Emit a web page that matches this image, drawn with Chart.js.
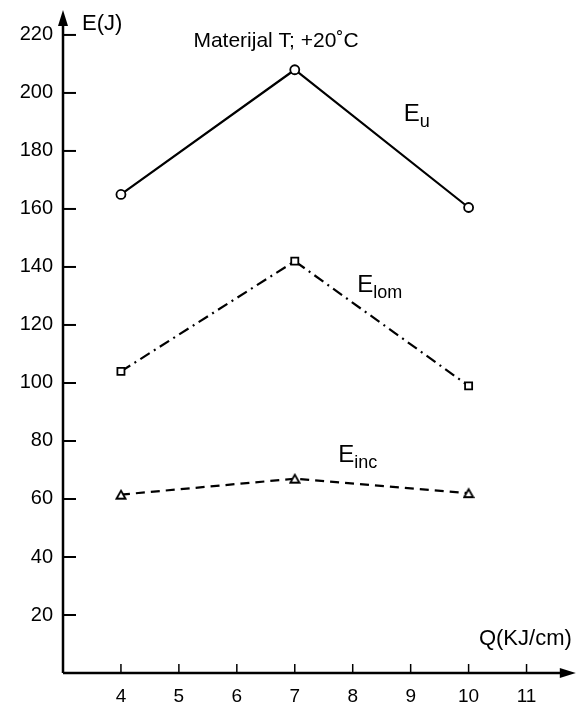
<!DOCTYPE html>
<html><head><meta charset="utf-8">
<script src="https://cdn.jsdelivr.net/npm/chart.js@4/dist/chart.umd.min.js"></script>
<style>html,body{margin:0;padding:0;background:#fff}#wrap{width:583px;height:709px}</style>
</head><body><div id="wrap"><canvas id="c" width="583" height="709"></canvas></div>
<script>
const xValues = [4, 7, 10];
const eU = [165, 208, 160.5];
const eLom = [104, 142, 99];
const eInc = [61.5, 67, 62];
const xTicks = [4, 5, 6, 7, 8, 9, 10, 11];
const yTicks = [20, 40, 60, 80, 100, 120, 140, 160, 180, 200, 220];
const seriesLabels = [
  {main: 'E', sub: 'u', x: 8.88, y: 193.5},
  {main: 'E', sub: 'lom', x: 8.08, y: 134.5},
  {main: 'E', sub: 'inc', x: 7.75, y: 76}
];
const FONT = '"Liberation Sans", Arial, sans-serif';

function pts(vals){ return xValues.map((x,i)=>({x:x,y:vals[i]})); }

const axisPlugin = {
  id: 'axisDeco',
  afterDraw(chart){
    const ctx = chart.ctx, xs = chart.scales.x, ys = chart.scales.y;
    const x0 = xs.left, y0 = ys.bottom;
    ctx.save();
    ctx.strokeStyle = '#000'; ctx.fillStyle = '#000'; ctx.lineWidth = 2.5;
    ctx.beginPath(); ctx.moveTo(x0, y0); ctx.lineTo(x0, ys.top + 12); ctx.stroke();
    ctx.beginPath(); ctx.moveTo(x0, y0); ctx.lineTo(xs.right - 12, y0); ctx.stroke();
    ctx.beginPath(); ctx.moveTo(x0, ys.top); ctx.lineTo(x0-5, ys.top+16); ctx.lineTo(x0+5, ys.top+16); ctx.closePath(); ctx.fill();
    ctx.beginPath(); ctx.moveTo(xs.right, y0); ctx.lineTo(xs.right-16, y0-5); ctx.lineTo(xs.right-16, y0+5); ctx.closePath(); ctx.fill();
    ctx.lineWidth = 2;
    yTicks.forEach(v=>{ const p = ys.getPixelForValue(v); ctx.beginPath(); ctx.moveTo(x0, p); ctx.lineTo(x0+13, p); ctx.stroke(); });
    ctx.lineWidth = 1.5;
    xTicks.forEach(v=>{ const p = xs.getPixelForValue(v); ctx.beginPath(); ctx.moveTo(p, y0); ctx.lineTo(p, y0-9); ctx.stroke(); });
    ctx.textBaseline = 'alphabetic';
    ctx.font = '22px ' + FONT; ctx.textAlign = 'left';
    ctx.fillText('E(J)', x0 + 19, ys.top + 20);
    ctx.font = '22px ' + FONT; ctx.textAlign = 'right';
    ctx.fillText('Q(KJ/cm)', xs.right - 4, y0 - 28);
    ctx.font = '21px ' + FONT; ctx.textAlign = 'center';
    ctx.fillText('Materijal T; +20\u02DAC', 276, 47);
    seriesLabels.forEach(l=>{
      const px = xs.getPixelForValue(l.x), py = ys.getPixelForValue(l.y);
      ctx.font = '24px ' + FONT; ctx.textAlign = 'left';
      ctx.fillText(l.main, px, py + 9);
      const w = ctx.measureText(l.main).width;
      ctx.font = '18px ' + FONT;
      ctx.fillText(l.sub, px + w, py + 15);
    });
    ctx.restore();
  }
};

function triangle(){
  const c = document.createElement('canvas'); c.width = 12; c.height = 12;
  const g = c.getContext('2d'); g.strokeStyle='#000'; g.fillStyle='#fff'; g.lineWidth=1.8;
  g.beginPath(); g.moveTo(6,2); g.lineTo(10.5,10); g.lineTo(1.5,10); g.closePath(); g.fill(); g.stroke();
  return c;
}

new Chart(document.getElementById('c'), {
  type: 'scatter',
  data: { datasets: [
    { data: pts(eU), showLine: true, borderColor: '#000', borderWidth: 2.2, pointStyle: 'circle', pointRadius: 4.5, pointBorderWidth: 1.8, pointBackgroundColor: '#fff', pointBorderColor: '#000' },
    { data: pts(eLom), showLine: true, borderColor: '#000', borderWidth: 2.2, borderDash: [11, 5, 2, 5], pointStyle: 'rect', pointRadius: 5, pointBorderWidth: 1.8, pointBackgroundColor: '#fff', pointBorderColor: '#000' },
    { data: pts(eInc), showLine: true, borderColor: '#000', borderWidth: 2.2, borderDash: [9, 6], pointStyle: triangle(), pointRadius: 5, pointBackgroundColor: '#fff', pointBorderColor: '#000' }
  ]},
  options: {
    responsive: false, animation: false, devicePixelRatio: 1,
    layout: { padding: { top: 10, right: 6, left: 0, bottom: 0 } },
    plugins: { legend: { display: false }, tooltip: { enabled: false } },
    scales: {
      x: { type: 'linear', min: 3, max: 11.85,
        afterBuildTicks: s => { s.ticks = xTicks.map(v=>({value:v})); },
        afterFit: s => { s.height = 36; s.paddingLeft = 0; s.paddingRight = 0; },
        grid: { display: false, drawTicks: false }, border: { display: false },
        ticks: { color: '#000', font: { size: 19, family: FONT }, padding: 12, maxRotation: 0 } },
      y: { type: 'linear', min: 0, max: 228.6,
        afterBuildTicks: s => { s.ticks = yTicks.map(v=>({value:v})); },
        afterFit: s => { s.width = 63; s.paddingTop = 0; s.paddingBottom = 0; },
        grid: { display: false, drawTicks: false }, border: { display: false },
        ticks: { color: '#000', font: { size: 20, family: FONT }, padding: 10 } }
    }
  },
  plugins: [axisPlugin]
});
</script></body></html>
